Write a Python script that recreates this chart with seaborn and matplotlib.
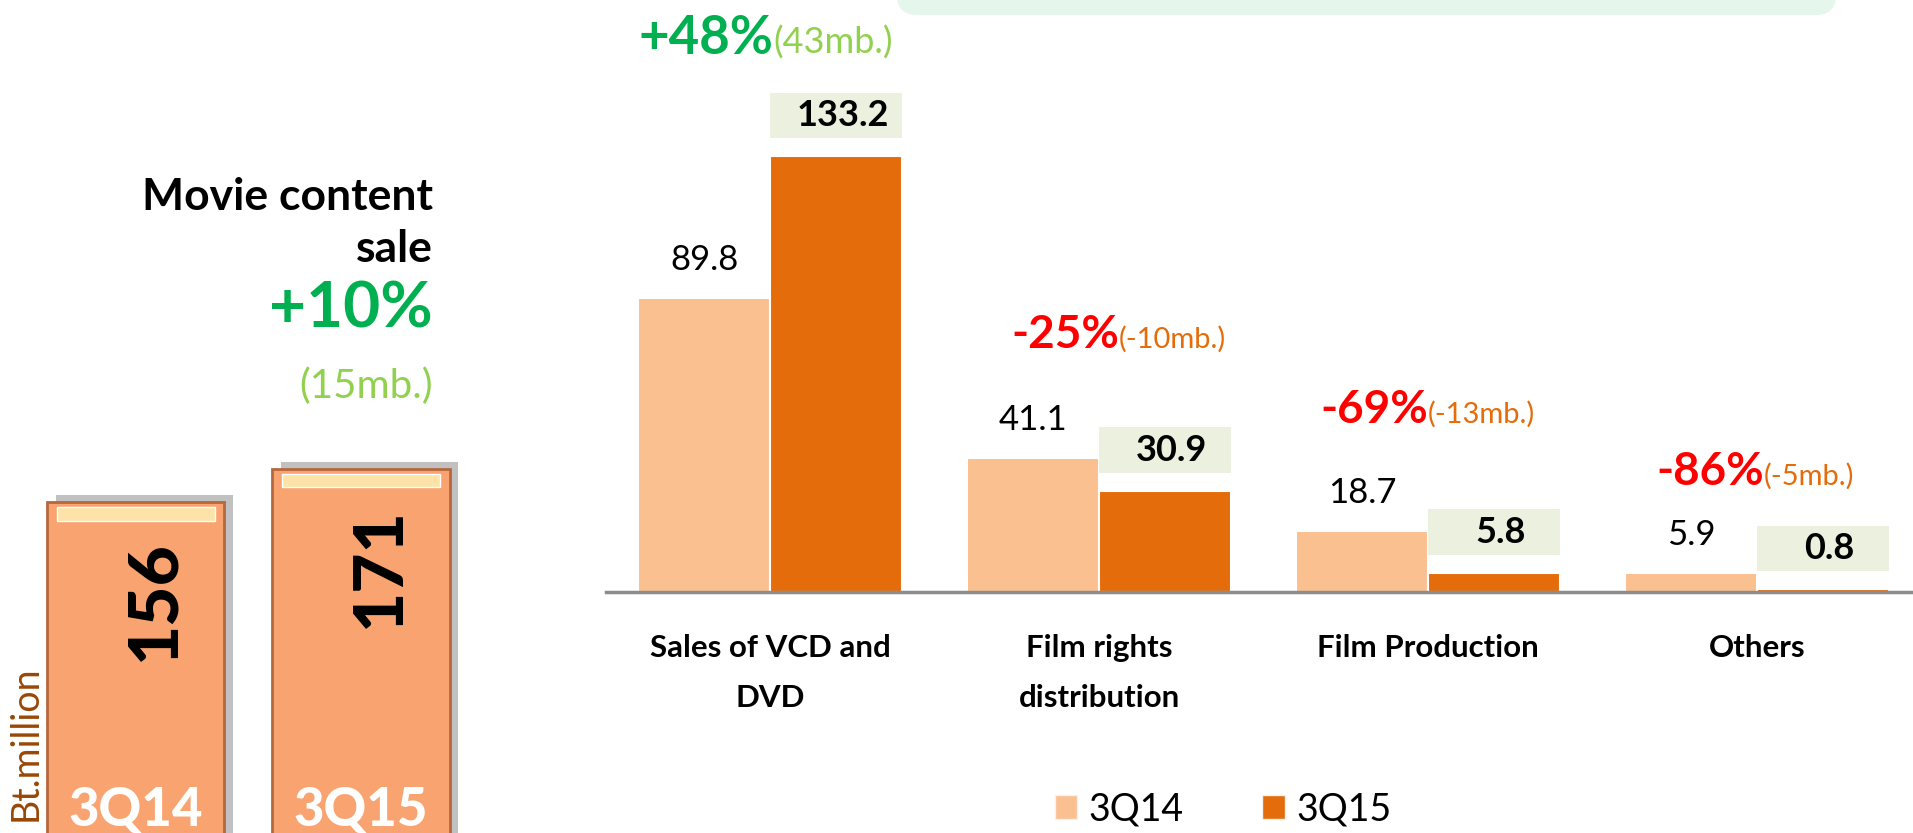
import pandas as pd
import seaborn as sns
import matplotlib.pyplot as plt
import matplotlib.patheffects as pe
from matplotlib.patches import FancyBboxPatch, Rectangle, Patch

# Donnees du graphique
categories = ["Sales of VCD and\nDVD", "Film rights\ndistribution", "Film Production", "Others"]
periods = ["3Q14", "3Q15"]
val_3q14 = [89.8, 41.1, 18.7, 5.9]
val_3q15 = [133.2, 30.9, 5.8, 0.8]
pct_change = ["+48%", "-25%", "-69%", "-86%"]
mb_change = ["(43mb.)", "(-10mb.)", "(-13mb.)", "(-5mb.)"]

total_values = [156, 171]
total_change = "+10%"
total_mb = "(15mb.)"

LIGHT = "#FAC090"
DARK = "#E46C0A"
BOX = "#EBF1DE"

df = pd.DataFrame({
    "category": categories * 2,
    "period": [periods[0]] * 4 + [periods[1]] * 4,
    "value": val_3q14 + val_3q15,
})

sns.set_style("white")
plt.rcParams["font.family"] = ["Lato", "DejaVu Sans"]
plt.rcParams["text.color"] = "black"

fig = plt.figure(figsize=(19.13, 8.33), dpi=100)

# bandeau vert clair en haut
fig.add_artist(FancyBboxPatch((8.97, 8.18), 9.39, 1.0,
                              boxstyle="round,pad=0,rounding_size=0.2",
                              transform=fig.dpi_scale_trans,
                              facecolor="#E5F6EC", edgecolor="none"))

# ---- graphique principal
ax = fig.add_axes([605.5 / 1913, 241 / 833, 1307.5 / 1913, 592 / 833])
sns.barplot(data=df, x="category", y="value", hue="period", palette=[LIGHT, DARK],
            saturation=1, width=0.8, errorbar=None, edgecolor="white", linewidth=1.5,
            legend=False, ax=ax)
ax.set_xlim(-0.5, 3.474)
ax.set_ylim(0, 181)
sns.despine(ax=ax, left=True)
ax.spines["bottom"].set_color("#8c8c8c")
ax.spines["bottom"].set_linewidth(2.5)
ax.set_yticks([])
ax.set_xlabel("")
ax.set_ylabel("")
ax.tick_params(axis="x", length=0, pad=30, labelsize=22.5, labelcolor="black")
for lbl in ax.get_xticklabels():
    lbl.set_fontweight("bold")
    lbl.set_linespacing(1.95)

for bar, v in zip(ax.containers[0], val_3q14):
    cx = bar.get_x() + bar.get_width() / 2
    ax.annotate(f"{v:.1f}", (cx, bar.get_height()), xytext=(0, 38), textcoords="offset pixels",
                ha="center", va="center", fontsize=25)

for bar, v in zip(ax.containers[1], val_3q15):
    cx = bar.get_x() + bar.get_width() / 2
    h = bar.get_height()
    ax.add_patch(Rectangle((cx - 0.2, h + 5.5), 0.4, 14, facecolor=BOX, edgecolor="none", clip_on=False))
    ax.text(cx + 0.02, h + 12.5, f"{v:.1f}", ha="center", va="center", fontsize=26, fontweight="bold")

# variations
change_x = [0.01, 0.06, 0.0, 0.02]
change_y = [164.5, 74.6, 51.7, 32.7]
for i, (p, m) in enumerate(zip(pct_change, mb_change)):
    up = p.startswith("+")
    ax.text(i + change_x[i], change_y[i], p, ha="right", va="baseline", fontweight="bold",
            fontsize=38 if up else 33, color="#00B050" if up else "#FF0000", clip_on=False)
    ax.text(i + change_x[i], change_y[i], m, ha="left", va="baseline",
            fontsize=26 if up else 21, color="#92D050" if up else DARK, clip_on=False)

handles = [Patch(facecolor=LIGHT, edgecolor="#f2f2f2"), Patch(facecolor=DARK, edgecolor="#f2f2f2")]
fig.legend(handles, periods, loc="center", bbox_to_anchor=(1223 / 1913, 24 / 833), ncol=2,
           frameon=False, fontsize=27, handlelength=0.6, handleheight=0.6,
           handletextpad=0.3, columnspacing=2.1)

# ---- total a gauche
ax2 = fig.add_axes([0, -12 / 833, 480 / 1913, 836 / 833])
sns.barplot(x=periods, y=total_values, color="#F9A470", saturation=1, width=0.787,
            edgecolor="#B5683E", linewidth=2, errorbar=None, ax=ax2)
ax2.set_xlim(-0.604, 1.529)
ax2.set_ylim(0, 380)
ax2.axis("off")
for bar in ax2.patches:
    bar.set_path_effects([pe.SimplePatchShadow(offset=(6, 5), shadow_rgbFace="#999999", alpha=0.6),
                          pe.Normal()])
ax2.bar(range(2), [6, 6], bottom=[v - 8.5 for v in total_values], width=0.7, color="#FDE3A7", zorder=3)

for i, v in enumerate(total_values):
    ax2.text(i + 0.085, v - 45, str(v), rotation=90, ha="center", va="center",
             fontsize=50, fontweight="black", zorder=4)
    ax2.text(i, 27, periods[i], ha="center", va="top", color="white", fontsize=38,
             fontweight="black", zorder=4)

fig.text(26 / 1913, 1 - 743 / 833, "Bt.million", rotation=90, ha="center", va="center",
         color="#984807", fontsize=27)
fig.text(433 / 1913, 1 - 210 / 833, "Movie content", ha="right", va="baseline", fontsize=32, fontweight="bold")
fig.text(433 / 1913, 1 - 262 / 833, "sale", ha="right", va="baseline", fontsize=32, fontweight="bold")
fig.text(433 / 1913, 1 - 328 / 833, total_change, ha="right", va="baseline", fontsize=46,
         fontweight="bold", color="#00B050")
fig.text(433 / 1913, 1 - 398 / 833, total_mb, ha="right", va="baseline", fontsize=29, color="#92D050")

fig.savefig("out.png", dpi=100)
